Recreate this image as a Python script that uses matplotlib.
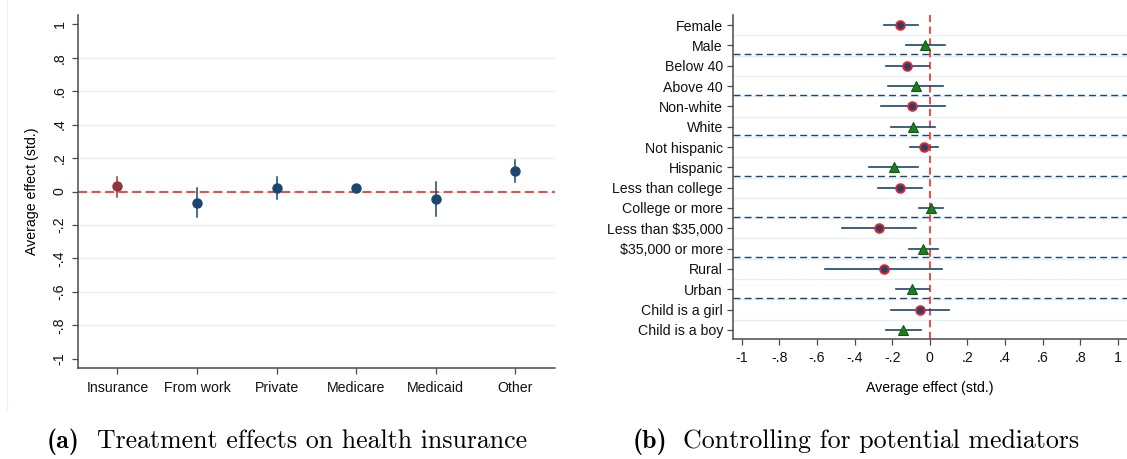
import numpy as np
import matplotlib
matplotlib.use('Agg')
import matplotlib.pyplot as plt
from matplotlib.lines import Line2D

################################################################
# data

# panel (a): treatment effects on health insurance
ins_labels = ['Insurance', 'From work', 'Private', 'Medicare', 'Medicaid', 'Other']
ins_coef = [0.030, -0.068, 0.022, 0.018, -0.046, 0.123]
ins_lo = [-0.030, -0.155, -0.042, 0.008, -0.149, 0.058]
ins_hi = [0.086, 0.020, 0.088, 0.028, 0.058, 0.189]

# panel (b): heterogeneity by subgroup
grp_labels = ['Female', 'Male', 'Below 40', 'Above 40', 'Non-white', 'White',
              'Not hispanic', 'Hispanic', 'Less than college', 'College or more',
              'Less than $35,000', '$35,000 or more', 'Rural', 'Urban',
              'Child is a girl', 'Child is a boy']
grp_coef = [-0.157, -0.024, -0.122, -0.076, -0.093, -0.087, -0.031, -0.191,
            -0.159, 0.007, -0.270, -0.035, -0.246, -0.094, -0.052, -0.141]
grp_lo = [-0.244, -0.128, -0.233, -0.220, -0.261, -0.204, -0.104, -0.324,
          -0.278, -0.056, -0.465, -0.109, -0.557, -0.178, -0.204, -0.233]
grp_hi = [-0.065, 0.083, -0.007, 0.069, 0.078, 0.026, 0.043, -0.061,
          -0.043, 0.070, -0.072, 0.041, 0.065, -0.007, 0.100, -0.048]

effect_ticks = [-1, -0.8, -0.6, -0.4, -0.2, 0, 0.2, 0.4, 0.6, 0.8, 1]
effect_tick_labels = ['-1', '-.8', '-.6', '-.4', '-.2', '0', '.2', '.4', '.6', '.8', '1']

captions = [('(a)', 'Treatment effects on health insurance'),
            ('(b)', 'Controlling for potential mediators')]

################################################################

NAVY = '#1a476f'
MAROON = '#90353b'
RED = '#f03a3a'
GREEN = '#1e7d1e'
GRID = '#e6eef1'
SPINE = '#4a4a4a'

plt.rcParams['font.family'] = ['Liberation Sans', 'DejaVu Sans']
plt.rcParams['font.size'] = 10

W, H = 1127, 459
fig = plt.figure(figsize=(W / 100, H / 100), dpi=100)


def style_axes(ax):
    for s in ['top', 'right']:
        ax.spines[s].set_visible(False)
    for s in ['left', 'bottom']:
        ax.spines[s].set_color(SPINE)
        ax.spines[s].set_linewidth(1.1)
    ax.tick_params(direction='out', length=4, width=0.9, color=SPINE,
                   labelsize=10.2, labelcolor='#111111')


################################################################
# panel (a)

ax1 = fig.add_axes([77.7 / W, 1 - 368 / H, (555 - 77.7) / W, 353 / H])
style_axes(ax1)
xpos = np.arange(1, len(ins_labels) + 1)

for v in effect_ticks[1:-1]:
    ax1.axhline(v, color=GRID, lw=1.0, zorder=0)
ax1.axhline(0, color=RED, lw=1.3, ls=(0, (5, 2.5)), zorder=1)

for i in range(len(ins_labels)):
    col = MAROON if i == 0 else NAVY
    ax1.plot([xpos[i], xpos[i]], [ins_lo[i], ins_hi[i]], color=col, lw=1.1, zorder=2)
    ax1.plot(xpos[i], ins_coef[i], 'o', color=col, ms=6.5, mec=col, zorder=3)

ax1.set_xlim(0.5, 6.5)
ax1.set_ylim(-1.055, 1.055)
ax1.set_xticks(xpos)
ax1.set_xticklabels(ins_labels)
ax1.set_yticks(effect_ticks)
ax1.set_yticklabels(effect_tick_labels, rotation=90, va='center')
ax1.tick_params(axis='x', pad=5)
ax1.tick_params(axis='y', pad=4)
ax1.set_ylabel('Average effect (std.)', fontsize=10.2, labelpad=10)

################################################################
# panel (b)

ax2 = fig.add_axes([732.7 / W, 1 - 339 / H, (W - 732.7) / W, 324 / H])
style_axes(ax2)
ypos = np.arange(len(grp_labels))

for k in range(len(grp_labels) - 1):
    ax2.axhline(k + 0.5, color=GRID, lw=1.0, zorder=0)
for k in range(1, len(grp_labels) - 1, 2):
    ax2.axhline(k + 0.42, color=NAVY, lw=1.0, ls=(0, (5, 3)), zorder=1)
ax2.axvline(0, color=RED, lw=1.3, ls=(0, (4, 2.5)), zorder=1)

for i in range(len(grp_labels)):
    ax2.plot([grp_lo[i], grp_hi[i]], [ypos[i], ypos[i]], color=NAVY, lw=1.2, zorder=2)
    if i % 2 == 0:
        ax2.plot(grp_coef[i], ypos[i], 'o', color=NAVY, mec='#e8202a', mew=1.4,
                 ms=6.2, zorder=3)
    else:
        ax2.plot(grp_coef[i], ypos[i], '^', color=GREEN, mec='#0f5a0f', mew=0.8,
                 ms=7.0, zorder=3)

ax2.set_xlim(-1.048, 1.048)
ax2.set_ylim(15.45, -0.5)
ax2.set_yticks(ypos)
ax2.set_yticklabels(grp_labels)
ax2.set_xticks(effect_ticks)
ax2.set_xticklabels(effect_tick_labels)
ax2.tick_params(axis='x', pad=5)
ax2.tick_params(axis='y', pad=3)
ax2.set_xlabel('Average effect (std.)', fontsize=10.2, labelpad=11)

################################################################
# faint graph-region border and sub-captions

fig.add_artist(Line2D([7 / W, 7 / W], [1 - 410 / H, 1.0], color='#eef2f4', lw=1.0))

cap_x = [(47, 97), (633, 683)]
for (tag, txt), (x0, x1) in zip(captions, cap_x):
    fig.text(x0 / W, 1 - 448 / H, tag, family='cmb10', fontsize=18.6,
             ha='left', va='baseline')
    fig.text(x1 / W, 1 - 448 / H, txt, family='cmr10', fontsize=18.6,
             ha='left', va='baseline')

fig.savefig('out.png', dpi=100)
